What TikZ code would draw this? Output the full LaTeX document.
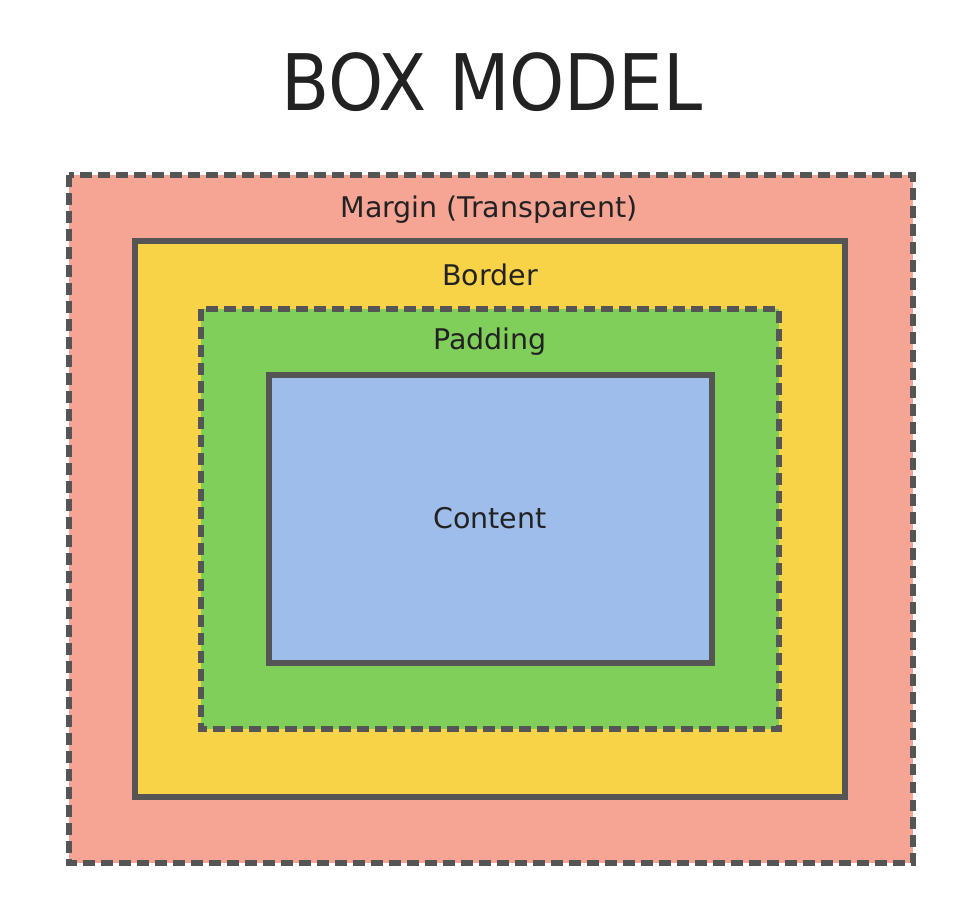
\documentclass[tikz,border=0pt]{standalone}
\usepackage{fontspec}
\setmainfont{DejaVu Sans}
\newfontfamily\titlefont{DejaVu Sans Condensed}
\definecolor{marginfill}{HTML}{F6A493}
\definecolor{borderfill}{HTML}{F8D247}
\definecolor{paddingfill}{HTML}{80CF5A}
\definecolor{contentfill}{HTML}{9FBDEA}
\definecolor{edgegray}{HTML}{555555}
\definecolor{textdark}{HTML}{222222}

\begin{document}
\begin{tikzpicture}
  [y=-1cm,
   layer/.style={draw=edgegray,line width=1.71pt},
   dashedlayer/.style={layer,dash pattern=on 3.41pt off 1.71pt},
   every node/.style={text=textdark,anchor=base,inner sep=0pt},
   boxlabel/.style={font=\fontsize{8.1pt}{9pt}\selectfont}]
  \useasboundingbox (0,0) rectangle (9.74,9.18);

  % boxes, from outside in
  \draw[dashedlayer,fill=marginfill]  (0.69,1.75) rectangle (9.13,8.63);
  \draw[layer,fill=borderfill]        (1.35,2.41) rectangle (8.45,7.97);
  \draw[dashedlayer,fill=paddingfill] (2.01,3.09) rectangle (7.79,7.29);
  \draw[layer,fill=contentfill]       (2.69,3.75) rectangle (7.12,6.63);

  % labels
  \node (title) at (4.92,1.10) {\titlefont\fontsize{22.2pt}{24pt}\selectfont BOX MODEL};
  \node[boxlabel] (margin)  at (4.89,2.17) {Margin (Transparent)};
  \node[boxlabel] (border)  at (4.90,2.85) {Border};
  \node[boxlabel] (padding) at (4.90,3.49) {Padding};
  \node[boxlabel] (content) at (4.90,5.28) {Content};
\end{tikzpicture}
\end{document}
